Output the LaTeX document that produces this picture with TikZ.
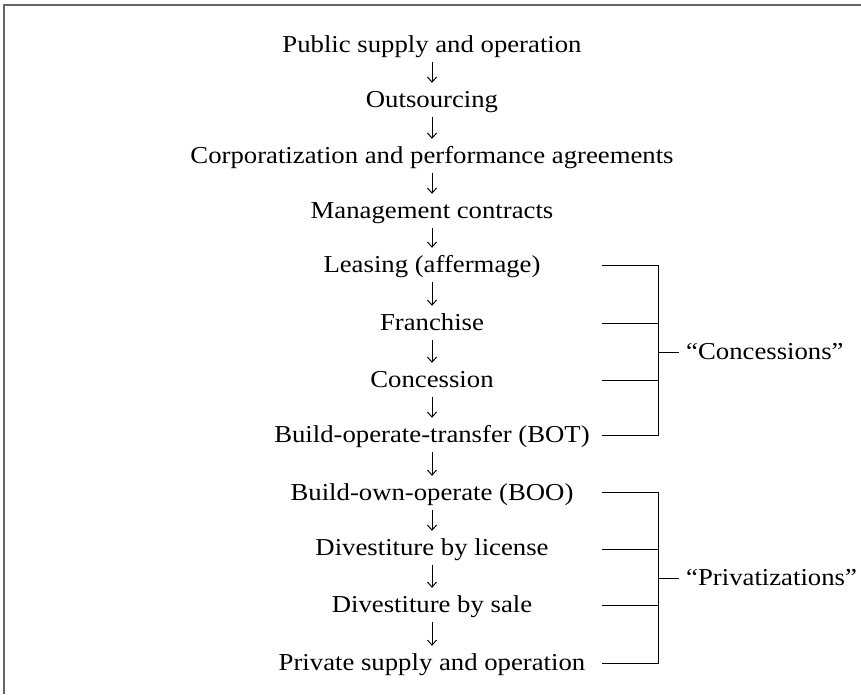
\documentclass[tikz,border=0pt]{standalone}
\usepackage{fontspec}
\setmainfont{Liberation Serif}[FakeStretch=1.1]
\usetikzlibrary{arrows.meta}
\begin{document}
\begin{tikzpicture}[x=1pt,y=-1pt,
  stage/.style={inner sep=0pt,anchor=base,text height=16pt,text depth=5pt,font=\fontsize{24.3}{28}\selectfont},
  grp/.style={inner sep=0pt,anchor=base west,font=\fontsize{24.3}{28}\selectfont},
  flow/.style={line width=0.8pt,-{Straight Barb[length=5pt,width=9pt,line width=1pt]}},
  brk/.style={line width=1pt}]
\useasboundingbox (0,0) rectangle (861,694);
\draw[line width=2pt,black!60] (4,694) -- (4,4.5) -- (861,4.5);
\def\cx{432}
\node[stage] (n1) at (\cx,52) {Public supply and operation};
\node[stage] (n2) at (\cx,107) {Outsourcing};
\node[stage] (n3) at (\cx,163) {Corporatization and performance agreements};
\node[stage] (n4) at (\cx,218) {Management contracts};
\node[stage] (n5) at (\cx,272) {Leasing (affermage)};
\node[stage] (n6) at (\cx,330) {Franchise};
\node[stage] (n7) at (\cx,387) {Concession};
\node[stage] (n8) at (\cx,442) {Build-operate-transfer (BOT)};
\node[stage] (n9) at (\cx,500) {Build-own-operate (BOO)};
\node[stage] (n10) at (\cx,555) {Divestiture by license};
\node[stage] (n11) at (\cx,612) {Divestiture by sale};
\node[stage] (n12) at (\cx,670) {Private supply and operation};
\foreach \a/\b in {1/2,2/3,3/4,4/5,5/6,6/7,7/8,8/9,9/10,10/11,11/12}
  \draw[flow] ([yshift=-5pt]n\a.south) -- ([yshift=8pt]n\b.north);
% brackets
\foreach \i/\y in {5/265,6/323,7/380,8/435,9/492,10/549,11/605,12/663}{
  \coordinate (s\i) at (602,\y);
  \coordinate (e\i) at (658,\y);
}
\coordinate (mc) at (658,352);
\coordinate (mp) at (658,578);
\node[grp] (gc) at (686,359) {“Concessions”};
\node[grp] (gp) at (686,585) {“Privatizations”};
\draw[brk] (s5) -- (e5) -- (e8) -- (s8);
\draw[brk] (s6) -- (e6);
\draw[brk] (s7) -- (e7);
\draw[brk] (mc) -- ([xshift=-7pt]gc.west |- mc);
\draw[brk] (s9) -- (e9) -- (e12) -- (s12);
\draw[brk] (s10) -- (e10);
\draw[brk] (s11) -- (e11);
\draw[brk] (mp) -- ([xshift=-7pt]gp.west |- mp);
\end{tikzpicture}
\end{document}
